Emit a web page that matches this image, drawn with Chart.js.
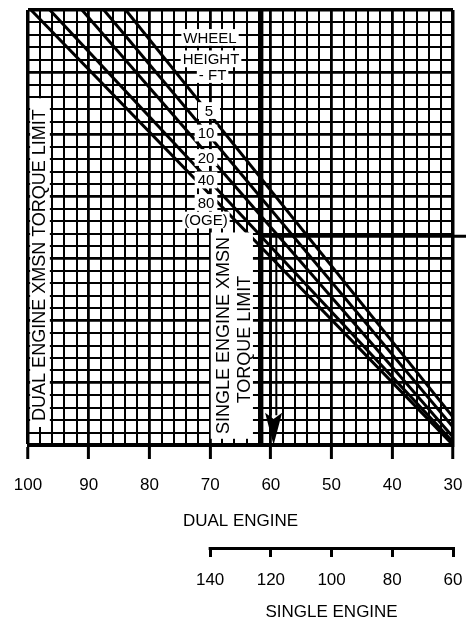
<!DOCTYPE html>
<html>
<head>
<meta charset="utf-8">
<title>Hover torque required</title>
<script src="https://cdn.jsdelivr.net/npm/chart.js@4.4.1/dist/chart.umd.min.js"></script>
<style>
  html, body { margin: 0; padding: 0; background: #fff; }
  #wrap { width: 466px; height: 624px; }
</style>
</head>
<body>
<div id="wrap"><canvas id="chart" width="466" height="624"></canvas></div>
<script>
// ---- data -------------------------------------------------------------
// Dual-engine torque axis (%), and the single-engine scale printed under it
const dualTorqueTicks = [100, 90, 80, 70, 60, 50, 40, 30];
const singleTorqueTicks = [60, 80, 100, 120, 140];
const gridRows = 35;

// Wheel-height lines: torque where each leaves the top edge,
// and the grid row where each meets the 30 % edge
const wheelHeights = ['5', '10', '20', '40', '80'];
const wheelTopTorque = [83.9, 87.5, 91.1, 96.4, 99.5];
const wheelRowAt30 = [2.25, 1.45, 0.65, 0.25, 0];

// Single-engine transmission torque limit and the worked example path
const singleEngineLimit = 61.6;
const exampleRow = 16.8;
const exampleEntryTorque = 27.5;      // comes in from the adjoining chart
const exampleShafts = [60.0, 59.1];
const exampleArrowTip = 59.55;
const exampleArrowBaseRow = 2.6;

// ---- styling ------------------------------------------------------------
const FONT = "'Liberation Sans', Arial, Helvetica, sans-serif";
Chart.defaults.font.family = FONT;
Chart.defaults.color = '#000';
const INK = '#000';

function gridWidth(v, majorStep, edges) {
  if (edges.includes(v)) return 3.5;
  return v % majorStep === 0 ? 2.8 : 2;
}

// fixed axis band heights so the plot frame lands where the sheet has it
function fixBand(height) {
  return s => {
    if (s.isHorizontal()) s.height = height; else s.width = height;
    s.paddingLeft = 0; s.paddingRight = 0; s.paddingTop = 0; s.paddingBottom = 0;
  };
}

// ---- datasets -----------------------------------------------------------
const datasets = wheelHeights.map((h, i) => ({
  label: h + ' FT',
  data: [{ x: wheelTopTorque[i], y: gridRows }, { x: 30, y: wheelRowAt30[i] }],
  borderColor: INK, borderWidth: 3, pointRadius: 0, showLine: true
}));
datasets.push({
  label: 'Single engine XMSN torque limit',
  data: [{ x: singleEngineLimit, y: 0 }, { x: singleEngineLimit, y: gridRows }],
  borderColor: INK, borderWidth: 4.5, pointRadius: 0, showLine: true
});
datasets.push({
  label: 'Example',
  data: [{ x: singleEngineLimit, y: exampleRow }, { x: exampleEntryTorque, y: exampleRow }],
  borderColor: INK, borderWidth: 3, pointRadius: 0, showLine: true, clip: false
});
exampleShafts.forEach(t => datasets.push({
  label: 'Example arrow',
  data: [{ x: t, y: exampleRow }, { x: t, y: exampleArrowBaseRow - 0.2 }],
  borderColor: INK, borderWidth: 2, pointRadius: 0, showLine: true
}));

// ---- text placed on the grid (torque, row) -------------------------------
const captionLines = [
  { t: 'WHEEL', x: 70.02, y: 32.79 },
  { t: 'HEIGHT', x: 69.86, y: 31.07 },
  { t: '- FT', x: 69.6, y: 29.81 }
];
const tagPlaces = [
  { x: 70.19, y: 26.91 }, { x: 70.68, y: 25.10 }, { x: 70.68, y: 23.13 },
  { x: 70.68, y: 21.32 }, { x: 70.68, y: 19.51 }
];
const ogePlace = { t: '(OGE)', x: 70.68, y: 18.10 };

const limitLabels = [
  { lines: [{ t: 'DUAL ENGINE XMSN TORQUE LIMIT', x: 98.27, y: 14.48 }],
    box: { x0: 99.65, x1: 96.4, y0: 1.45, y1: 27.9 } },
  { lines: [{ t: 'SINGLE ENGINE XMSN', x: 67.96, y: 8.81 },
            { t: 'TORQUE LIMIT', x: 64.43, y: 8.49 }],
    box: { x0: 69.9, x1: 62.95, y0: 0.5, y1: 17.1 } }
];

const overlay = {
  id: 'overlay',
  afterDatasetsDraw(chart) {
    const { ctx, scales: { x, y } } = chart;
    const X = v => x.getPixelForValue(v);
    const Y = v => y.getPixelForValue(v);
    ctx.save();

    // horizontal labels with white backing that breaks the grid
    function tag(t, cx, cy, size, padX, padY, minW) {
      ctx.font = size + 'px ' + FONT;
      const w = Math.max(ctx.measureText(t).width + 2 * padX, minW || 0);
      const cap = size * 0.72;
      ctx.fillStyle = '#fff';
      ctx.fillRect(cx - w / 2, cy - cap / 2 - padY, w, cap + 2 * padY);
      ctx.fillStyle = INK;
      ctx.textAlign = 'center';
      ctx.textBaseline = 'alphabetic';
      ctx.fillText(t, cx, cy + cap / 2);
    }
    captionLines.forEach(c => tag(c.t, X(c.x), Y(c.y), 15, 2, 3));
    wheelHeights.forEach((h, i) => tag(h, X(tagPlaces[i].x), Y(tagPlaces[i].y), 15, 3, 3, 22));
    tag(ogePlace.t, X(ogePlace.x), Y(ogePlace.y), 15, 2, 3);

    // vertical limit captions
    limitLabels.forEach(l => {
      const b = l.box;
      ctx.fillStyle = '#fff';
      ctx.fillRect(X(b.x0), Y(b.y1), X(b.x1) - X(b.x0), Y(b.y0) - Y(b.y1));
      l.lines.forEach(line => {
        const size = 18;
        ctx.save();
        ctx.translate(X(line.x), Y(line.y));
        ctx.rotate(-Math.PI / 2);
        ctx.font = size + 'px ' + FONT;
        ctx.fillStyle = INK;
        ctx.textAlign = 'center';
        ctx.textBaseline = 'alphabetic';
        ctx.fillText(line.t, 0, size * 0.36);
        ctx.restore();
      });
    });

    // arrowhead of the example
    const half = 1.4;
    ctx.fillStyle = INK;
    ctx.beginPath();
    ctx.moveTo(X(exampleArrowTip + half), Y(exampleArrowBaseRow));
    ctx.lineTo(X(exampleArrowTip), Y(exampleArrowBaseRow - 0.5));
    ctx.lineTo(X(exampleArrowTip - half), Y(exampleArrowBaseRow));
    ctx.lineTo(X(exampleArrowTip), Y(0));
    ctx.closePath();
    ctx.fill();
    ctx.restore();
  },
  afterDraw(chart) {
    const { ctx, scales: { x2 } } = chart;
    const first = singleTorqueTicks[singleTorqueTicks.length - 1];
    const last = singleTorqueTicks[0];
    ctx.save();
    ctx.strokeStyle = INK;
    ctx.lineWidth = 3;
    ctx.beginPath();
    ctx.moveTo(x2.getPixelForValue(first) - 1.5, x2.top + 1.5);
    ctx.lineTo(x2.getPixelForValue(last) + 1.5, x2.top + 1.5);
    ctx.stroke();
    ctx.font = '17px ' + FONT;
    ctx.fillStyle = INK;
    ctx.textAlign = 'center';
    ctx.textBaseline = 'middle';
    ctx.fillText('SINGLE ENGINE', x2.getPixelForValue(100), x2.top + 65);
    ctx.restore();
  }
};

new Chart(document.getElementById('chart'), {
  type: 'scatter',
  data: { datasets },
  options: {
    responsive: false,
    animation: false,
    devicePixelRatio: 1,
    events: [],
    layout: { padding: { left: 28, right: 13, top: 10, bottom: 0 } },
    plugins: { legend: { display: false }, tooltip: { enabled: false } },
    scales: {
      x: {
        type: 'linear', position: 'bottom', reverse: true, min: 30, max: 100,
        afterFit: fixBand(102),
        ticks: {
          stepSize: 2, autoSkip: false, minRotation: 0, maxRotation: 0, padding: 16,
          color: INK, font: { size: 17 },
          callback: v => dualTorqueTicks.includes(v) ? String(v) : ''
        },
        grid: {
          color: INK,
          lineWidth: c => gridWidth(c.tick.value, 10, [30, 100]),
          tickLength: 14,
          tickWidth: c => dualTorqueTicks.includes(c.tick.value) ? 3 : 0,
          tickColor: c => dualTorqueTicks.includes(c.tick.value) ? INK : 'rgba(0,0,0,0)'
        },
        border: { display: true, color: INK, width: 3 },
        title: { display: true, text: 'DUAL ENGINE', color: INK, font: { size: 17 },
                 padding: { top: 0, bottom: 15.4 } }
      },
      x2: {
        type: 'linear', position: 'bottom', reverse: true, min: 60, max: 200, weight: 1,
        afterBuildTicks: s => { s.ticks = singleTorqueTicks.map(v => ({ value: v })); },
        afterFit: fixBand(77),
        ticks: { autoSkip: false, minRotation: 0, maxRotation: 0, padding: 13.3,
                 color: INK, font: { size: 17 } },
        grid: { drawOnChartArea: false, color: INK, tickLength: 10, tickWidth: 3, tickColor: INK },
        border: { display: false }
      },
      y: {
        type: 'linear', min: 0, max: gridRows,
        afterFit: fixBand(0),
        ticks: { display: false, stepSize: 1 },
        grid: {
          color: INK, drawTicks: false,
          lineWidth: c => gridWidth(c.tick.value, 5, [0, gridRows])
        },
        border: { display: false }
      }
    }
  },
  plugins: [overlay]
});
</script>
</body>
</html>
